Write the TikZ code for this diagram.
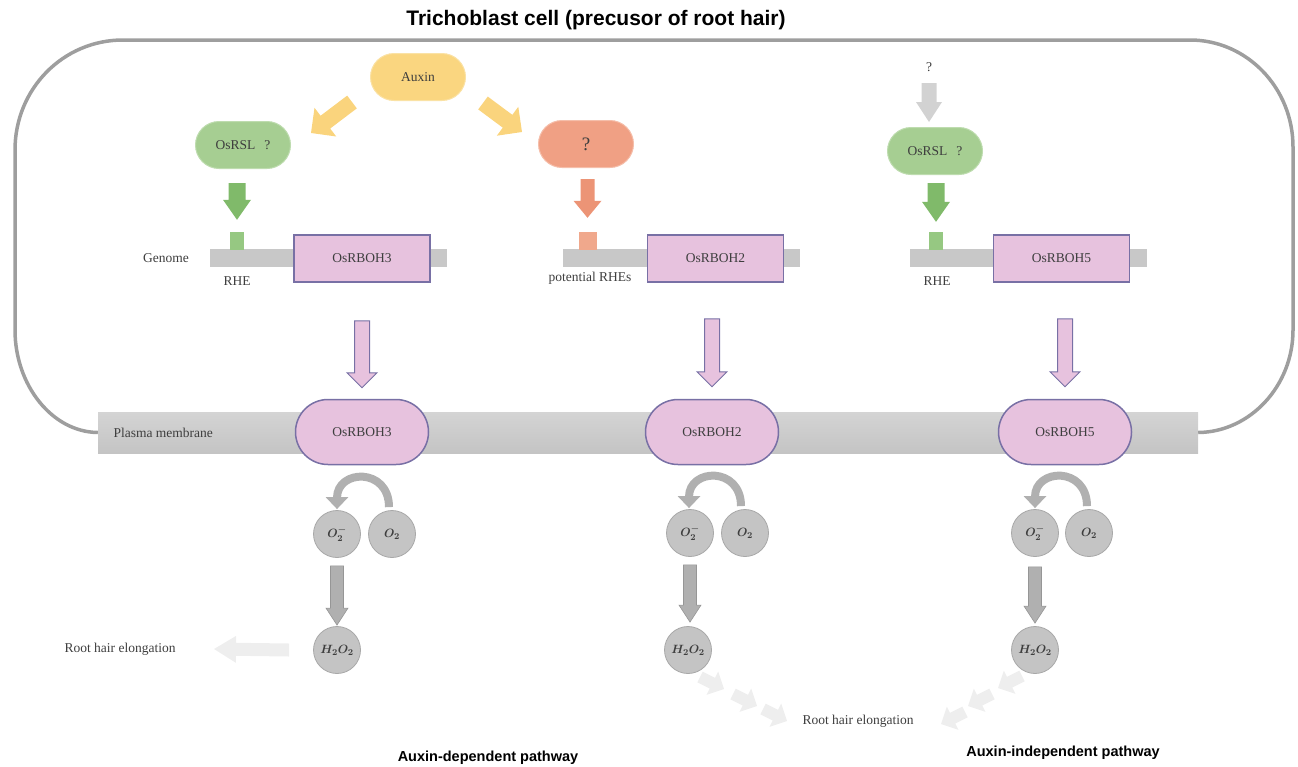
\documentclass[tikz,border=0pt]{standalone}
\usepackage{fontspec}
\usepackage{bm}
\setmainfont{Liberation Serif}
\newfontfamily\headfont{Liberation Sans}
\usetikzlibrary{shapes.misc,calc,arrows.meta}

\definecolor{outl}{RGB}{158,158,158}
\definecolor{membt}{RGB}{212,212,212}
\definecolor{membb}{RGB}{196,196,196}
\definecolor{barc}{RGB}{200,200,200}
\definecolor{pinkf}{RGB}{231,194,222}
\definecolor{pinkd}{RGB}{120,112,165}
\definecolor{greenf}{RGB}{166,206,146}
\definecolor{greend}{RGB}{190,220,175}
\definecolor{greena}{RGB}{128,186,106}
\definecolor{greens}{RGB}{150,200,130}
\definecolor{yelf}{RGB}{250,214,128}
\definecolor{yeld}{RGB}{250,226,165}
\definecolor{yela}{RGB}{250,212,125}
\definecolor{orf}{RGB}{240,160,132}
\definecolor{ord}{RGB}{245,190,170}
\definecolor{ora}{RGB}{236,148,118}
\definecolor{ors}{RGB}{240,168,140}
\definecolor{circf}{RGB}{196,196,196}
\definecolor{circd}{RGB}{168,168,168}
\definecolor{arrg}{RGB}{176,176,176}
\definecolor{arrgd}{RGB}{150,150,150}
\definecolor{topg}{RGB}{210,210,210}
\definecolor{faintc}{RGB}{238,238,238}
\definecolor{txt}{RGB}{62,62,62}

\newcommand\Otwo{$\bm{O_2}$}
\newcommand\Otwominus{$\bm{O_2^-}$}
\newcommand\HtwoOtwo{$\bm{H_2O_2}$}

\tikzset{
  aw/.store in=\ArW, ah/.store in=\ArH, al/.store in=\ArL,
  aw=7pt, ah=14pt, al=14pt
}
\newcommand\barrow[3][]{%
  \path[#1] let \p1=#2, \p2=#3,
    \n1={atan2(\y2-\y1,\x2-\x1)}, \n2={veclen(\x2-\x1,\y2-\y1)} in
    {[shift={(\p1)},rotate=\n1]
     (0pt,-\ArW) -- ({\n2-\ArL},-\ArW) -- ({\n2-\ArL},-\ArH) -- ({\n2+0pt},0pt)
     -- ({\n2-\ArL},\ArH) -- ({\n2-\ArL},\ArW) -- (0pt,\ArW) -- cycle};}

\begin{document}
\begin{tikzpicture}[x=1pt,y=-1pt,
  every node/.style={text=txt},
  font=\fontsize{13.5}{15}\selectfont,
  head/.style={font=\headfont\bfseries\fontsize{14.5}{16}\selectfont, text=black},
  pill/.style={rounded rectangle, minimum width=95pt, minimum height=47pt, line width=1pt, inner sep=0pt},
  genebox/.style={rectangle, fill=pinkf, draw=pinkd, line width=1.5pt, minimum width=136pt, minimum height=47pt, inner sep=0pt},
  prot/.style={rounded rectangle, fill=pinkf, draw=pinkd, line width=1.5pt, minimum width=133pt, minimum height=65pt, inner sep=0pt},
  barbox/.style={rectangle, fill=barc, minimum width=237pt, minimum height=18pt, inner sep=0pt},
  sqbox/.style={rectangle, minimum width=14pt, minimum height=18pt, inner sep=0pt},
  mol/.style={circle, fill=circf, draw=circd, line width=0.8pt, minimum size=47pt, inner sep=0pt, font=\fontsize{13}{14}\selectfont},
  cellline/.style={draw=outl, line width=3.5pt},
  yelarr/.style={fill=yela, aw=8pt, ah=18pt, al=18pt},
  grnarr/.style={fill=greena, aw=8.5pt, ah=14pt, al=20pt},
  orarr/.style={fill=ora, aw=7pt, ah=14pt, al=17pt},
  toparr/.style={fill=topg, aw=7.5pt, ah=13pt, al=20pt},
  pinkarr/.style={fill=pinkf, draw=pinkd, line width=1pt, aw=7.5pt, ah=15pt, al=15pt},
  grayarr/.style={fill=arrg, draw=arrgd, line width=0.6pt, aw=6.5pt, ah=11pt, al=17pt},
  faintarr/.style={fill=faintc, aw=6.5pt, ah=13.5pt, al=22pt},
  smallfaint/.style={fill=faintc, aw=6pt, ah=13pt, al=13pt},
  curv/.style={draw=arrg, line width=8pt, -{Triangle[width=22pt,length=12pt]}}
]
\useasboundingbox (0,0) rectangle (1298,766);

% title
\node[head, font=\headfont\bfseries\fontsize{21}{23}\selectfont] (title) at (596,20) {Trichoblast cell (precusor of root hair)};

% membrane
\node[rectangle, top color=membt, bottom color=membb, minimum width=1100pt, minimum height=41pt, inner sep=0pt] (membrane) at (648,432.5) {};
\node[anchor=west] (pmlabel) at (110,433) {Plasma membrane};

% cell outline
\draw[cellline] (membrane.west) .. controls (52,432) and (15,385) .. (15,330) -- (15,150)
  .. controls (15,89) and (63,40) .. (123,40) -- (1190,40)
  .. controls (1247,40) and (1293,88) .. (1293,147) -- (1293,330)
  .. controls (1293,386) and (1250,432) .. (membrane.east);

% top regulators
\node[pill, fill=yelf, draw=yeld] (auxin) at (418,77) {Auxin};
\node[pill, fill=greenf, draw=greend] (rsl1) at (243,145) {OsRSL\hspace{9pt}?};
\node[pill, fill=orf, draw=ord] (q) at (586,144) {\fontsize{19}{20}\selectfont ?};
\node (qt) at (929,67) {?};
\node[pill, fill=greenf, draw=greend] (rsl2) at (935,151) {OsRSL\hspace{9pt}?};

% genome rows
\node[barbox] (bar1) at (328.5,258) {};
\node[barbox] (bar2) at (681.5,258) {};
\node[barbox] (bar3) at (1028.5,258) {};
\node[sqbox, fill=greens] (rhe1) at (237,241) {};
\node[sqbox, fill=ors, minimum width=18pt] (rhe2) at (587.5,241) {};
\node[sqbox, fill=greens] (rhe3) at (936,241) {};
\node[genebox] (gene1) at (362,258.5) {OsRBOH3};
\node[genebox] (gene2) at (715.5,258.5) {OsRBOH2};
\node[genebox] (gene3) at (1061.5,258.5) {OsRBOH5};
\node (genome) at (166,258) {Genome};
\node (rhel1) at (237,281) {RHE};
\node (rhel2) at (590,278) {potential RHEs};
\node (rhel3) at (937,281) {RHE};

% proteins
\node[prot] (p1) at (362,432) {OsRBOH3};
\node[prot] (p2) at (712,432) {OsRBOH2};
\node[prot] (p3) at (1065,432) {OsRBOH5};

% molecules
\node[mol] (om1) at (337,534) {\Otwominus};
\node[mol] (ot1) at (392,534) {\Otwo};
\node[mol] (om2) at (690,533) {\Otwominus};
\node[mol] (ot2) at (745,533) {\Otwo};
\node[mol] (om3) at (1035,533) {\Otwominus};
\node[mol] (ot3) at (1089,533) {\Otwo};
\node[mol] (h1) at (337,650) {\HtwoOtwo};
\node[mol] (h2) at (688,650) {\HtwoOtwo};
\node[mol] (h3) at (1035,650) {\HtwoOtwo};

% outcome labels
\node (rhe-left) at (120,649) {Root hair elongation};
\node (rhe-mid) at (858,721) {Root hair elongation};
\node[head] (dep) at (488,758) {Auxin-dependent pathway};
\node[head] (indep) at (1063,753) {Auxin-independent pathway};

% block arrows: regulators
\barrow[yelarr]{($(auxin.west)+(-18,25)$)}{($(rsl1.east)+(20,-12)$)}
\barrow[yelarr]{($(auxin.east)+(17,26)$)}{($(q.west)+(-16,-12)$)}
\barrow[grnarr]{($(rhe1 |- rsl1.south)+(0,14)$)}{($(rhe1.north)+(0,-12)$)}
\barrow[orarr]{($(rhe2 |- q.south)+(0,11)$)}{($(rhe2.north)+(0,-14)$)}
\barrow[toparr]{($(qt.south)+(0,8)$)}{($(qt |- rsl2.north)+(0,-5)$)}
\barrow[grnarr]{($(rhe3 |- rsl2.south)+(0,8)$)}{($(rhe3.north)+(0,-10)$)}

% gene to protein
\barrow[pinkarr]{($(gene1.south -| p1)+(0,38)$)}{($(p1.north)+(0,-11)$)}
\barrow[pinkarr]{($(gene2.south -| p2)+(0,36)$)}{($(p2.north)+(0,-12)$)}
\barrow[pinkarr]{($(gene3.south -| p3)+(0,36)$)}{($(p3.north)+(0,-12)$)}

% O2 -> O2-
\draw[curv] ($(ot1.north)+(-3,-3)$) .. controls +(0,-40) and +(0,-40) .. ($(om1.north)+(0,-1)$);
\draw[curv] ($(ot2.north)+(-4,-3)$) .. controls +(0,-40) and +(0,-40) .. ($(om2.north)+(-1,-1)$);
\draw[curv] ($(ot3.north)+(-2,-3)$) .. controls +(0,-40) and +(0,-40) .. ($(om3.north)+(0,-1)$);

% O2- -> H2O2
\barrow[grayarr]{($(om1.south)+(0,8)$)}{($(om1 |- h1.north)+(0,-1)$)}
\barrow[grayarr]{($(om2.south)+(0,8)$)}{($(om2 |- h2.north)+(0,-4)$)}
\barrow[grayarr]{($(om3.south)+(0,10)$)}{($(om3 |- h3.north)+(0,-3)$)}

% H2O2 -> root hair elongation
\barrow[faintarr]{($(h1.west)+(-24,0)$)}{($(rhe-left.east)+(35,0)$)}
\barrow[smallfaint]{($(h2)+(12,27)$)}{($(h2)+(36,39)$)}
\barrow[smallfaint]{($(h2)+(45,44)$)}{($(h2)+(69,56)$)}
\barrow[smallfaint]{($(h2)+(75,59)$)}{($(h2)+(99,71)$)}
\barrow[smallfaint]{($(h3)+(-13,26)$)}{($(h3)+(-37,38)$)}
\barrow[smallfaint]{($(h3)+(-43,44)$)}{($(h3)+(-67,56)$)}
\barrow[smallfaint]{($(h3)+(-70,62)$)}{($(h3)+(-94,74)$)}
\end{tikzpicture}
\end{document}
